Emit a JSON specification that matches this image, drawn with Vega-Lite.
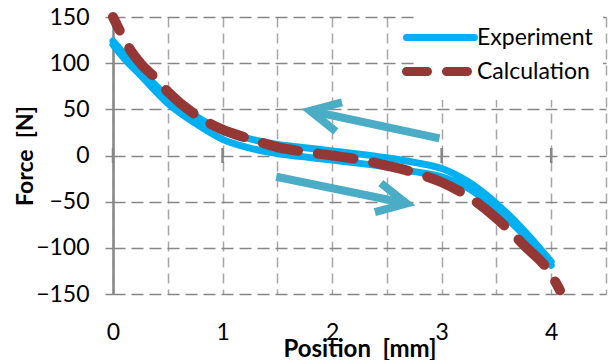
{
  "$schema": "https://vega.github.io/schema/vega-lite/v6.json",
  "width": 493,
  "height": 277,
  "autosize": "none",
  "padding": {"left": 113, "top": 17, "right": 7, "bottom": 66},
  "config": {"font": "Lato", "view": {"stroke": null}},
  "datasets": {
    "curves": [
      {"series": "Experiment", "branch": "return", "x": 0, "force": 124},
      {"series": "Experiment", "branch": "return", "x": 0.1, "force": 110.5},
      {"series": "Experiment", "branch": "return", "x": 0.25, "force": 93},
      {"series": "Experiment", "branch": "return", "x": 0.5, "force": 63.5},
      {"series": "Experiment", "branch": "return", "x": 0.75, "force": 43},
      {"series": "Experiment", "branch": "return", "x": 1, "force": 26.5},
      {"series": "Experiment", "branch": "return", "x": 1.25, "force": 18},
      {"series": "Experiment", "branch": "return", "x": 1.5, "force": 12},
      {"series": "Experiment", "branch": "return", "x": 1.75, "force": 8.5},
      {"series": "Experiment", "branch": "return", "x": 2, "force": 5},
      {"series": "Experiment", "branch": "return", "x": 2.25, "force": 1.5},
      {"series": "Experiment", "branch": "return", "x": 2.5, "force": -2.5},
      {"series": "Experiment", "branch": "return", "x": 2.75, "force": -7.5},
      {"series": "Experiment", "branch": "return", "x": 3, "force": -14},
      {"series": "Experiment", "branch": "return", "x": 3.25, "force": -29},
      {"series": "Experiment", "branch": "return", "x": 3.5, "force": -52},
      {"series": "Experiment", "branch": "return", "x": 3.75, "force": -81},
      {"series": "Experiment", "branch": "return", "x": 4, "force": -115},
      {"series": "Experiment", "branch": "forward", "x": 0, "force": 120},
      {"series": "Experiment", "branch": "forward", "x": 0.1, "force": 105.5},
      {"series": "Experiment", "branch": "forward", "x": 0.25, "force": 87},
      {"series": "Experiment", "branch": "forward", "x": 0.5, "force": 56.5},
      {"series": "Experiment", "branch": "forward", "x": 0.75, "force": 35},
      {"series": "Experiment", "branch": "forward", "x": 1, "force": 17.5},
      {"series": "Experiment", "branch": "forward", "x": 1.25, "force": 8},
      {"series": "Experiment", "branch": "forward", "x": 1.5, "force": 2},
      {"series": "Experiment", "branch": "forward", "x": 1.75, "force": -1.5},
      {"series": "Experiment", "branch": "forward", "x": 2, "force": -5},
      {"series": "Experiment", "branch": "forward", "x": 2.25, "force": -8.5},
      {"series": "Experiment", "branch": "forward", "x": 2.5, "force": -12.5},
      {"series": "Experiment", "branch": "forward", "x": 2.75, "force": -17.5},
      {"series": "Experiment", "branch": "forward", "x": 3, "force": -23},
      {"series": "Experiment", "branch": "forward", "x": 3.25, "force": -36},
      {"series": "Experiment", "branch": "forward", "x": 3.5, "force": -58},
      {"series": "Experiment", "branch": "forward", "x": 3.75, "force": -86},
      {"series": "Experiment", "branch": "forward", "x": 4, "force": -119},
      {"series": "Calculation", "branch": "model", "x": 0, "force": 150},
      {"series": "Calculation", "branch": "model", "x": 0.08, "force": 131},
      {"series": "Calculation", "branch": "model", "x": 0.16, "force": 114},
      {"series": "Calculation", "branch": "model", "x": 0.25, "force": 100},
      {"series": "Calculation", "branch": "model", "x": 0.385, "force": 84},
      {"series": "Calculation", "branch": "model", "x": 0.5, "force": 69},
      {"series": "Calculation", "branch": "model", "x": 0.78, "force": 42},
      {"series": "Calculation", "branch": "model", "x": 1, "force": 28},
      {"series": "Calculation", "branch": "model", "x": 1.25, "force": 18},
      {"series": "Calculation", "branch": "model", "x": 1.5, "force": 9},
      {"series": "Calculation", "branch": "model", "x": 1.75, "force": 4},
      {"series": "Calculation", "branch": "model", "x": 2, "force": 0},
      {"series": "Calculation", "branch": "model", "x": 2.25, "force": -4.5},
      {"series": "Calculation", "branch": "model", "x": 2.5, "force": -11},
      {"series": "Calculation", "branch": "model", "x": 2.75, "force": -18.5},
      {"series": "Calculation", "branch": "model", "x": 3, "force": -29},
      {"series": "Calculation", "branch": "model", "x": 3.25, "force": -45},
      {"series": "Calculation", "branch": "model", "x": 3.5, "force": -68},
      {"series": "Calculation", "branch": "model", "x": 3.75, "force": -97},
      {"series": "Calculation", "branch": "model", "x": 4, "force": -129},
      {"series": "Calculation", "branch": "model", "x": 4.08, "force": -146}
    ],
    "arrows": [
      {"arrow": "back", "end": "tail", "x": 2.98, "force": 18.5},
      {"arrow": "back", "end": "tip", "x": 1.8, "force": 48.5},
      {"arrow": "forward", "end": "tail", "x": 1.49, "force": -23},
      {"arrow": "forward", "end": "tip", "x": 2.68, "force": -52}
    ],
    "zeroTicks": [{"x": 0}, {"x": 1}, {"x": 2}, {"x": 3}, {"x": 4}]
  },
  "layer": [
    {
      "mark": {"type": "rule", "color": "#868686", "strokeWidth": 3.5},
      "encoding": {"y": {"datum": 0, "type": "quantitative"}}
    },
    {
      "data": {"name": "zeroTicks"},
      "mark": {"type": "tick", "orient": "vertical", "color": "#868686", "size": 15, "thickness": 2.5, "opacity": 1},
      "encoding": {
        "x": {"field": "x", "type": "quantitative"},
        "y": {"datum": 0, "type": "quantitative"}
      }
    },
    {
      "data": {"name": "arrows"},
      "mark": {"type": "line", "color": "#4BACC6", "strokeWidth": 8},
      "encoding": {
        "x": {"field": "x", "type": "quantitative"},
        "y": {"field": "force", "type": "quantitative"},
        "detail": {"field": "arrow"}
      }
    },
    {
      "data": {"name": "arrows"},
      "transform": [{"filter": "datum.arrow === 'back' && datum.end === 'tip'"}],
      "mark": {"type": "point", "shape": "M -0.45 0.89 L 0 0 L 0.45 0.89", "size": 4356, "angle": 282, "filled": false, "stroke": "#4BACC6", "strokeWidth": 8, "strokeJoin": "miter", "opacity": 1},
      "encoding": {
        "x": {"field": "x", "type": "quantitative"},
        "y": {"field": "force", "type": "quantitative"}
      }
    },
    {
      "data": {"name": "arrows"},
      "transform": [{"filter": "datum.arrow === 'forward' && datum.end === 'tip'"}],
      "mark": {"type": "point", "shape": "M -0.45 0.89 L 0 0 L 0.45 0.89", "size": 4356, "angle": 101.6, "filled": false, "stroke": "#4BACC6", "strokeWidth": 8, "strokeJoin": "miter", "opacity": 1},
      "encoding": {
        "x": {"field": "x", "type": "quantitative"},
        "y": {"field": "force", "type": "quantitative"}
      }
    },
    {
      "data": {"name": "curves"},
      "transform": [{"filter": "datum.series === 'Experiment'"}],
      "mark": {"type": "line", "strokeWidth": 7, "interpolate": "monotone", "strokeCap": "round"},
      "encoding": {
        "x": {
          "field": "x", "type": "quantitative",
          "scale": {"domain": [0, 4.5], "nice": false},
          "axis": {
            "values": [0, 0.5, 1, 1.5, 2, 2.5, 3, 3.5, 4, 4.5],
            "format": "~g",
            "labelExpr": "datum.value % 1 === 0 ? datum.label : ''",
            "labelOverlap": false,
            "labelFlush": false,
            "domain": false,
            "ticks": false,
            "tickSize": 0,
            "grid": true,
            "labelPadding": 27,
            "labelFontSize": 23,
            "labelColor": "#000000",
            "gridColor": "#a6a6a6",
            "gridDash": [10, 6],
            "gridWidth": 1.5,
            "title": "Position \u00a0[mm]",
            "titleFontSize": 24,
            "titleFontWeight": "bold",
            "titleColor": "#000000",
            "titlePadding": -7
          }
        },
        "y": {
          "field": "force", "type": "quantitative",
          "scale": {"domain": [-150, 150], "nice": false},
          "axis": {
            "values": [-150, -100, -50, 0, 50, 100, 150],
            "grid": true,
            "domainColor": "#868686",
            "domainWidth": 2.5,
            "tickColor": "#868686",
            "tickSize": 8,
            "tickWidth": 1.5,
            "labelPadding": 16,
            "labelFontSize": 23,
            "labelColor": "#000000",
            "gridColor": "#868686",
            "gridDash": [12, 6],
            "gridWidth": 1.5,
            "title": "Force \u00a0[N]",
            "titleFontSize": 23,
            "titleFontWeight": "bold",
            "titleColor": "#000000",
            "titlePadding": -2
          }
        },
        "color": {
          "field": "series", "type": "nominal",
          "scale": {"domain": ["Experiment", "Calculation"], "range": ["#00B0F0", "#953735"]},
          "legend": {
            "title": null,
            "orient": "none",
            "legendX": 306,
            "legendY": -1,
            "fillColor": "white",
            "padding": 10,
            "symbolType": "stroke",
            "symbolSize": 4624,
            "symbolStrokeWidth": 8,
            "labelFontSize": 23,
            "labelColor": "#000000",
            "labelOffset": 25,
            "rowPadding": 1,
            "encode": {
              "symbols": {
                "update": {
                  "strokeDash": {"signal": "datum.value === 'Calculation' ? [21, 19] : [1, 0]"},
                  "strokeWidth": {"signal": "datum.value === 'Calculation' ? 9 : 7"},
                  "strokeCap": {"value": "round"}
                }
              }
            }
          }
        },
        "detail": {"field": "branch"}
      }
    },
    {
      "data": {"name": "curves"},
      "transform": [{"filter": "datum.series === 'Calculation'"}],
      "mark": {"type": "line", "strokeWidth": 10, "strokeDash": [36, 20], "strokeDashOffset": 21, "interpolate": "monotone", "strokeCap": "round"},
      "encoding": {
        "x": {"field": "x", "type": "quantitative"},
        "y": {"field": "force", "type": "quantitative"},
        "color": {"field": "series", "type": "nominal"}
      }
    }
  ]
}
